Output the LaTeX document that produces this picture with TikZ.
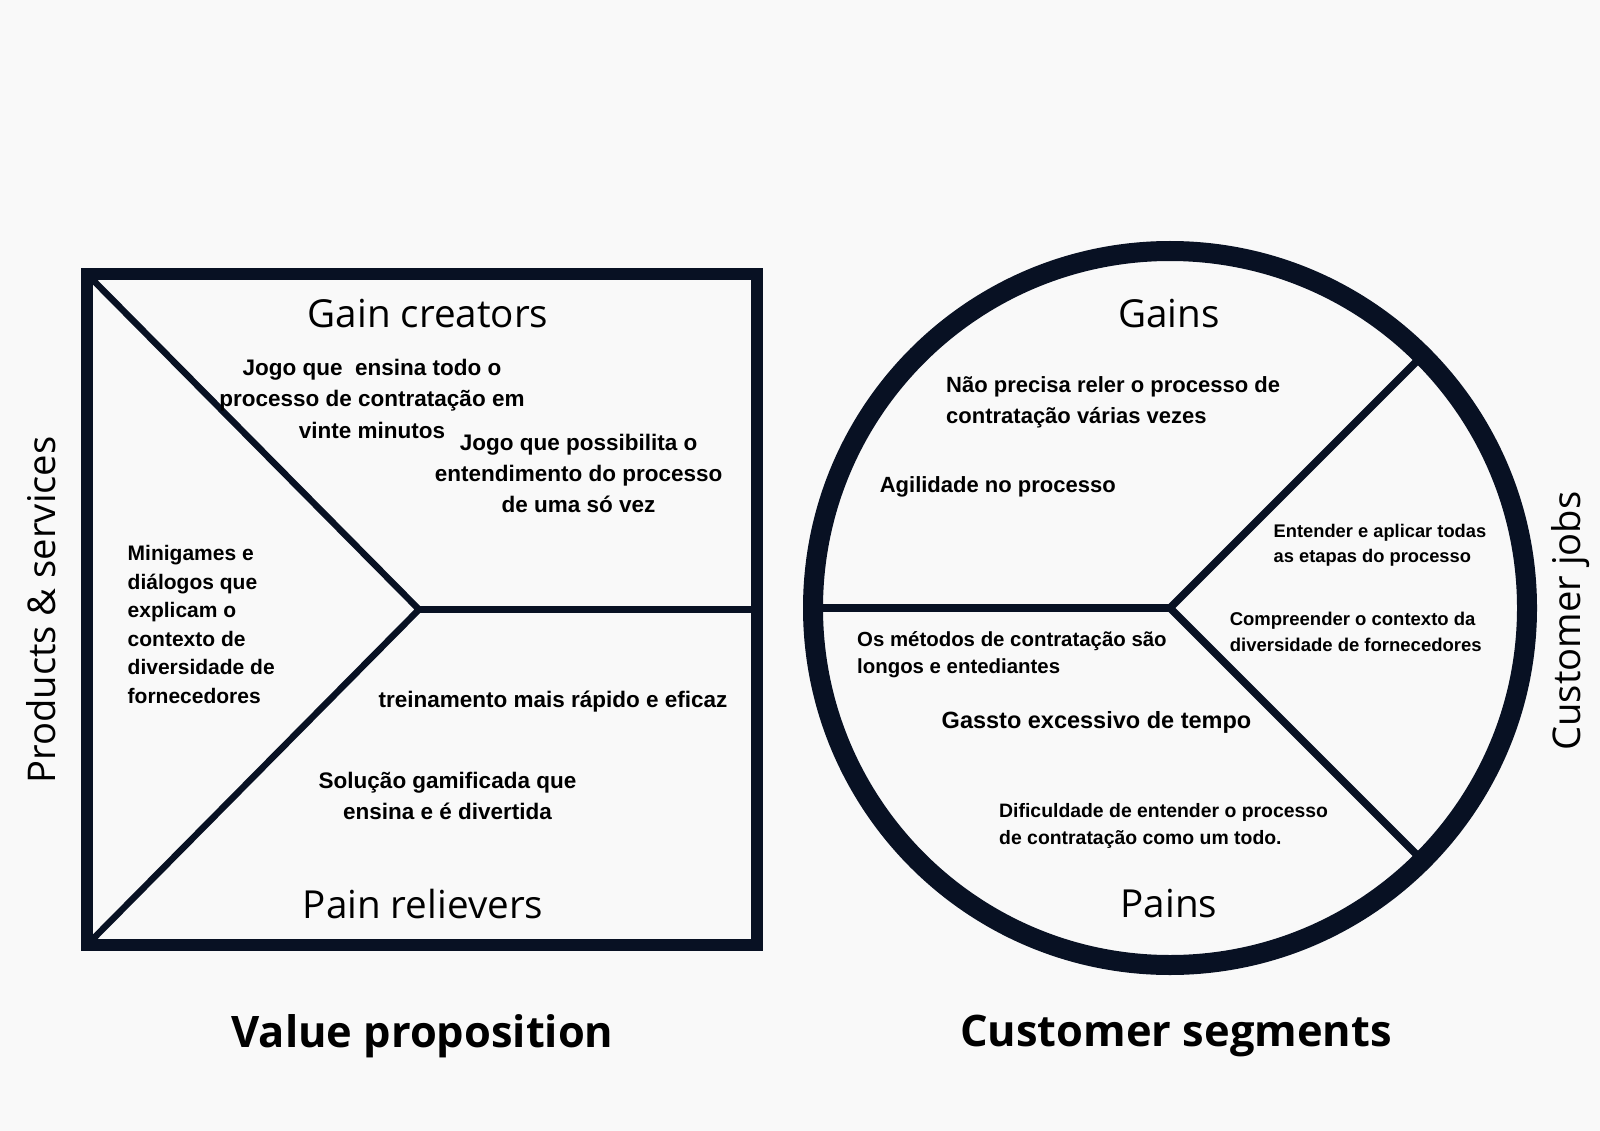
\documentclass[tikz,border=0pt]{standalone}
\usepackage{fontspec}
\setmainfont{Open Sans}
\newfontfamily\bodyfont{Liberation Sans}
\usetikzlibrary{calc}

\definecolor{paper}{RGB}{249,249,249}
\definecolor{ink}{RGB}{8,17,35}

% body text: bold sans, size and leading in pt
\newcommand\notefont[2]{\bodyfont\bfseries\fontsize{#1}{#2}\selectfont}

\tikzset{
  frame/.style={draw=ink, line width=12pt},
  divider/.style={draw=ink, line width=6.5pt, line join=miter},
  cdivider/.style={draw=ink, line width=7.5pt, line join=miter},
  ring/.style={draw=ink, line width=20pt},
  heading/.style={inner sep=0pt, text=black, font=\fontsize{38.6}{46}\selectfont},
  sidelabel/.style={inner sep=0pt, text=black, rotate=90, font=\fontsize{38.2}{44}\selectfont},
  title/.style={inner sep=0pt, text=black, font=\fontsize{43.4}{50}\selectfont\bfseries},
  note/.style={inner sep=0pt, text=black},
}

\begin{document}
\begin{tikzpicture}[x=1pt, y=-1pt]
  % page
  \fill[paper] (0,0) rectangle (1600,1131);
  \useasboundingbox (0,0) rectangle (1600,1131);

  % ---------- value proposition square ----------
  \coordinate (sqTL) at (87,274);
  \coordinate (sqTR) at (757,274);
  \coordinate (sqBR) at (757,945);
  \coordinate (sqBL) at (87,945);
  \coordinate (apex) at (419,609.5);
  \coordinate (sqR)  at (757,609.5);

  \draw[divider] (sqTL) -- (apex) -- (sqBL);
  \draw[divider] (apex) -- (sqR);
  \draw[frame] (sqTL) -- (sqTR) -- (sqBR) -- (sqBL) -- cycle;

  % ---------- customer circle ----------
  \coordinate (cc) at (1170,608);
  \coordinate (cL)  at ($(cc)+(180:357)$);
  \coordinate (cUR) at ($(cc)+(-45:357)$);
  \coordinate (cDR) at ($(cc)+(45:357)$);

  \draw[cdivider] (cL) -- (cc);
  \draw[cdivider] (cUR) -- (cc) -- (cDR);
  \draw[ring] (cc) circle [radius=357pt];

  % ---------- headings ----------
  \node[heading] (gaincreators) at (428,314) {Gain creators};
  \node[heading] (painrelievers) at (423,904) {Pain relievers};
  \node[heading] (gains) at (1169,314) {Gains};
  \node[heading] (pains) at (1169,904) {Pains};
  \node[sidelabel] (products) at (41,610) {Products \& services};
  \node[sidelabel] (jobs) at (1571,621) {Customer jobs};
  \node[title] (vp) at (422.5,1036) {Value proposition};
  \node[title] (cs) at (1176,1036) {Customer segments};

  % ---------- gain creators ----------
  \node[note, align=center, font=\notefont{22.5}{31.5}] (gc1) at (372,398.5)
    {Jogo que~ ensina todo o\\processo de contratação em\\vinte minutos};
  \node[note, align=center, font=\notefont{22.5}{31}] (gc2) at (578.6,473.5)
    {Jogo que possibilita o\\entendimento do processo\\de uma só vez};

  % ---------- products & services ----------
  \node[note, align=left, anchor=west, font=\notefont{21}{28.6}] (ps) at (127.5,624.5)
    {Minigames e\\diálogos que\\explicam o\\contexto de\\diversidade de\\fornecedores};

  % ---------- pain relievers ----------
  \node[note, font=\notefont{22.5}{31}] (pr1) at (553,702)
    {treinamento mais rápido e eficaz};
  \node[note, align=center, font=\notefont{22.5}{30.5}] (pr2) at (447.5,796)
    {Solução gamificada que\\ensina e é divertida};

  % ---------- gains ----------
  \node[note, align=left, anchor=west, font=\notefont{22}{31.6}] (g1) at (946,402.5)
    {Não precisa reler o processo de\\contratação várias vezes};
  \node[note, anchor=west, font=\notefont{22}{31}] (g2) at (879.6,486.7)
    {Agilidade no processo};

  % ---------- customer jobs ----------
  \node[note, align=left, anchor=west, font=\notefont{18.3}{25.5}] (cj1) at (1273.5,545.3)
    {Entender e aplicar todas\\as etapas do processo};
  \node[note, align=left, anchor=west, font=\notefont{18.5}{25.7}] (cj2) at (1229.6,632)
    {Compreender o contexto da\\diversidade de fornecedores};

  % ---------- pains ----------
  \node[note, align=left, anchor=west, font=\notefont{20.4}{27.5}] (p1) at (857,654.5)
    {Os métodos de contratação são\\longos e entediantes};
  \node[note, font=\notefont{23.5}{30}] (p2) at (1096.5,722.4)
    {Gassto excessivo de tempo};
  \node[note, align=left, anchor=west, font=\notefont{19.4}{27.7}] (p3) at (999,826)
    {Dificuldade de entender o processo\\de contratação como um todo.};
\end{tikzpicture}
\end{document}
